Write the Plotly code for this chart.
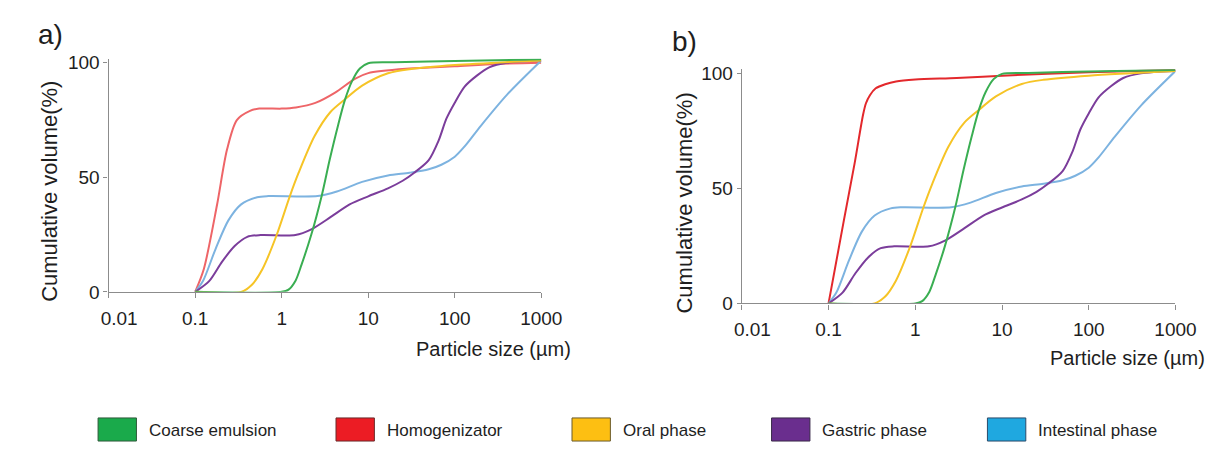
import plotly.graph_objects as go

# ---------------- data ----------------
green_x = [0.1, 1.0, 1.2, 1.45, 1.7, 2.2, 2.9, 3.6, 4.5, 5.4, 6.5, 8, 10, 20, 100, 1000]
green_y = [0, 0, 1, 5, 12, 25, 42, 58, 73, 84, 92, 97.5, 99.8, 100.2, 100.8, 101.5]

yellow_x = [0.1, 0.34, 0.45, 0.6, 0.87, 1.24, 1.57, 2.4, 3.66, 5.37, 8.5, 16.9, 30, 100, 1000]
yellow_y = [0, 0, 3, 10, 24.6, 41.7, 52, 68, 78.5, 84, 90, 95.4, 97.2, 99, 101]

purple_x = [0.1, 0.145, 0.204, 0.286, 0.40, 0.57, 1.44, 2.2, 3.66, 6.1, 10, 16.9, 25, 34,
            50, 65, 80, 100, 130, 180, 250, 400, 1000]
purple_y = [0, 4.7, 13.1, 20, 24, 24.8, 24.8, 27.3, 32.6, 38.2, 41.7, 45.2, 48.5, 52,
            57.5, 66, 75.6, 82.6, 89.6, 94.4, 98, 100, 101]

blue_x = [0.1, 0.123, 0.172, 0.242, 0.34, 0.52, 0.7, 2.6, 4.34, 8.5, 16.9, 30, 50, 70,
          100, 130, 200, 400, 1000]
blue_y = [0, 4.7, 18.7, 31.2, 38.2, 41.3, 41.8, 41.8, 43.8, 48, 50.8, 52, 53.5, 55.5,
          59, 63.5, 72.5, 86, 101]

red_a_x = [0.1, 0.126, 0.179, 0.233, 0.303, 0.43, 0.55, 1.0, 1.46, 2.45, 4.14, 7.0, 10,
           30, 100, 300, 1000]
red_a_y = [0, 10, 38, 62, 75, 79, 80, 80, 80.5, 82.5, 87, 93, 95.5, 97.5, 98.5, 99.5, 100]

red_b_x = [0.1, 0.15, 0.2, 0.25, 0.27, 0.3, 0.35, 0.45, 0.6, 1, 3, 10, 100, 1000]
red_b_y = [0, 36, 61, 82, 87, 90.5, 93.5, 95.3, 96.5, 97.3, 98, 99, 100.5, 101.5]

x_tickvals = [0.01, 0.1, 1, 10, 100, 1000]
x_ticktext = ["\u00a0\u00a0\u00a0\u00a00.01", "0.1", "1", "10", "100", "1000"]
y_tickvals = [0, 50, 100]

legend_names = ["Coarse emulsion", "Homogenizator", "Oral phase", "Gastric phase", "Intestinal phase"]
legend_fill = ["#1aaa4b", "#ec1c24", "#fdbf12", "#6a2e8e", "#1fa8e0"]
legend_edge = ["#2f5a3a", "#6a2a2a", "#6a5a2a", "#3a2a4a", "#2a4a6a"]

# ---------------- styles ----------------
C_GREEN = "#3aae52"
C_RED_A = "#ee6568"
C_RED_B = "#e3282c"
C_YELLOW = "#f6c426"
C_PURPLE = "#7b3d9b"
C_BLUE = "#7db3e0"
FONT = "Liberation Sans, Arial, sans-serif"
AX = "#8c8c8c"
TXT = "#1e1e1e"

fig = go.Figure()

def add(x, y, color, xa, ya):
    fig.add_trace(go.Scatter(x=x, y=y, mode="lines", xaxis=xa, yaxis=ya,
                             line=dict(color=color, width=2, shape="spline", smoothing=0.8),
                             showlegend=False, hoverinfo="skip"))

for xa, ya, red_x, red_y, red_c in [("x", "y", red_a_x, red_a_y, C_RED_A),
                                    ("x2", "y2", red_b_x, red_b_y, C_RED_B)]:
    add(red_x, red_y, red_c, xa, ya)
    add(blue_x, blue_y, C_BLUE, xa, ya)
    add(purple_x, purple_y, C_PURPLE, xa, ya)
    add(yellow_x, yellow_y, C_YELLOW, xa, ya)
    add(green_x, green_y, C_GREEN, xa, ya)

W, H = 1231, 453

def xax(x0, x1, anchor):
    return dict(type="log", range=[-2, 3], domain=[x0 / W, x1 / W], anchor=anchor,
                tickvals=x_tickvals, ticktext=x_ticktext, showgrid=False, zeroline=False,
                showline=True, linecolor=AX, linewidth=1.3, ticks="outside", ticklen=5,
                tickcolor=AX, ticklabelstandoff=4,
                tickfont=dict(family=FONT, size=19, color=TXT))

def yax(ybot, ytop, anchor):
    # ybot: pixel of value 0; ytop: pixel of value 100
    per = (ybot - ytop) / 100.0
    top = ytop - 1.8 * per
    return dict(range=[0, 101.8], domain=[(H - ybot) / H, (H - top) / H], anchor=anchor,
                tickvals=y_tickvals, showgrid=False, zeroline=False, showline=True,
                linecolor=AX, linewidth=1.3, ticks="outside", ticklen=4, tickcolor=AX,
                tickfont=dict(family=FONT, size=19, color=TXT))

fig.update_layout(
    width=W, height=H, margin=dict(l=0, r=0, t=0, b=0),
    paper_bgcolor="white", plot_bgcolor="white", showlegend=False,
    xaxis=xax(83, 534, "y"), yaxis=yax(297, 59, "x"),
    xaxis2=xax(743, 1195, "y2"), yaxis2=yax(309, 70, "x2"),
)

ann = []
def txt(x, y, s, size, angle=0, xanchor="center"):
    ann.append(dict(x=x / W, y=1 - y / H, xref="paper", yref="paper", text=s, showarrow=False,
                    textangle=angle, xanchor=xanchor, yanchor="middle",
                    font=dict(family=FONT, size=size, color=TXT)))

txt(22, 30, "a)", 28)
txt(683, 37, "b)", 28)
txt(22, 193, "Cumulative volume(%)", 22, angle=-90)
txt(683, 205, "Cumulative volume(%)", 22, angle=-90)
txt(484, 356, "Particle size (µm)", 20)
txt(1145, 366, "Particle size (µm)", 20)

box_x0 = [72, 320, 566, 774, 999]
shapes = []
for bx, name, fc, ec in zip(box_x0, legend_names, legend_fill, legend_edge):
    shapes.append(dict(type="rect", xref="paper", yref="paper",
                       x0=bx / W, x1=(bx + 40) / W, y0=1 - 452 / H, y1=1 - 428 / H,
                       fillcolor=fc, line=dict(color=ec, width=1)))
    ann.append(dict(x=(bx + 51) / W, y=1 - 441 / H, xref="paper", yref="paper", text=name,
                    showarrow=False, xanchor="left", yanchor="middle",
                    font=dict(family=FONT, size=17, color=TXT)))

fig.update_layout(annotations=ann, shapes=shapes)
fig.write_html("out.html")
